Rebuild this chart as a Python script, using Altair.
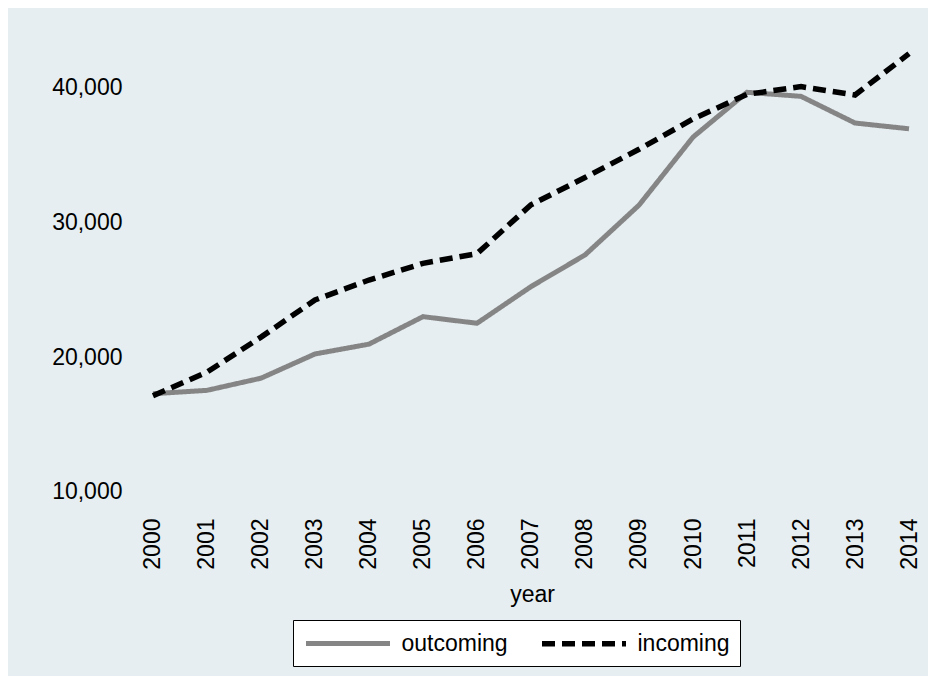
import altair as alt
import pandas as pd

years = list(range(2000, 2015))
outcoming = [17300, 17550, 18450, 20250, 20980, 23020, 22530, 25250, 27600, 31300,
             36350, 39680, 39380, 37400, 36970]
incoming = [17150, 18900, 21500, 24260, 25740, 26980, 27700, 31330, 33350, 35450,
            37700, 39530, 40100, 39480, 42550]
series_names = ["outcoming", "incoming"]
y_ticks = [10000, 20000, 30000, 40000]
title_text = "2014"

rows = []
for name, vals in zip(series_names, [outcoming, incoming]):
    for yr, v in zip(years, vals):
        rows.append({"year": yr, "value": v, "series": name})
df = pd.DataFrame(rows)

BG = "#e6eef1"
FONT = "Liberation Sans"

chart = alt.Chart(df).mark_line(strokeCap="butt", strokeJoin="miter").encode(
    x=alt.X("year:Q",
            scale=alt.Scale(domain=[1999.593, 2014.222], nice=False, zero=False),
            axis=alt.Axis(title="year", values=years, format="d", labelAngle=-90,
                          grid=False, domain=False, ticks=False, tickSize=0,
                          labelPadding=19, titlePadding=14, titleX=401,
                          labelFontSize=23, titleFontSize=23,
                          labelFont=FONT, titleFont=FONT, labelColor="#000",
                          titleColor="#000", titleFontWeight="normal")),
    y=alt.Y("value:Q",
            scale=alt.Scale(domain=[9480, 43490], nice=False, zero=False),
            axis=alt.Axis(title=None, values=y_ticks, format=",d",
                          grid=False, domain=False, ticks=False, tickSize=0,
                          labelPadding=9, labelFontSize=23, labelFont=FONT,
                          labelColor="#000")),
    color=alt.Color("series:N",
                    scale=alt.Scale(domain=series_names, range=["#858585", "#000000"]),
                    legend=alt.Legend(title=None, orient="none", direction="horizontal",
                                      legendX=162, legendY=579, columns=2,
                                      symbolType="M-4,0H4", symbolSize=441,
                                      symbolOffset=31.5,
                                      symbolStrokeWidth=5, labelFontSize=23,
                                      labelFont=FONT, labelColor="#000",
                                      labelOffset=40, columnPadding=23,
                                      padding=10, strokeColor="#000",
                                      fillColor="#ffffff", labelLimit=300)),
    strokeDash=alt.StrokeDash("series:N",
                              scale=alt.Scale(domain=series_names, range=[[1, 0], [13, 7]]),
                              legend=None),
    strokeWidth=alt.StrokeWidth("series:N",
                                scale=alt.Scale(domain=series_names, range=[5, 5.5]),
                                legend=None),
).properties(
    width=790,
    height=458,
    title=alt.TitleParams(title_text, anchor="start", dx=305, offset=31,
                          baseline="alphabetic", font="Liberation Serif",
                          fontSize=30, fontWeight="bold", color="#000"),
    autosize=alt.AutoSizeParams(type="none"),
    padding={"left": 123, "top": 33, "right": 7, "bottom": 177},
).configure(background=BG).configure_view(stroke=None, fill=BG)

chart.save("out.html", embed_options={"renderer": "svg", "actions": False})
